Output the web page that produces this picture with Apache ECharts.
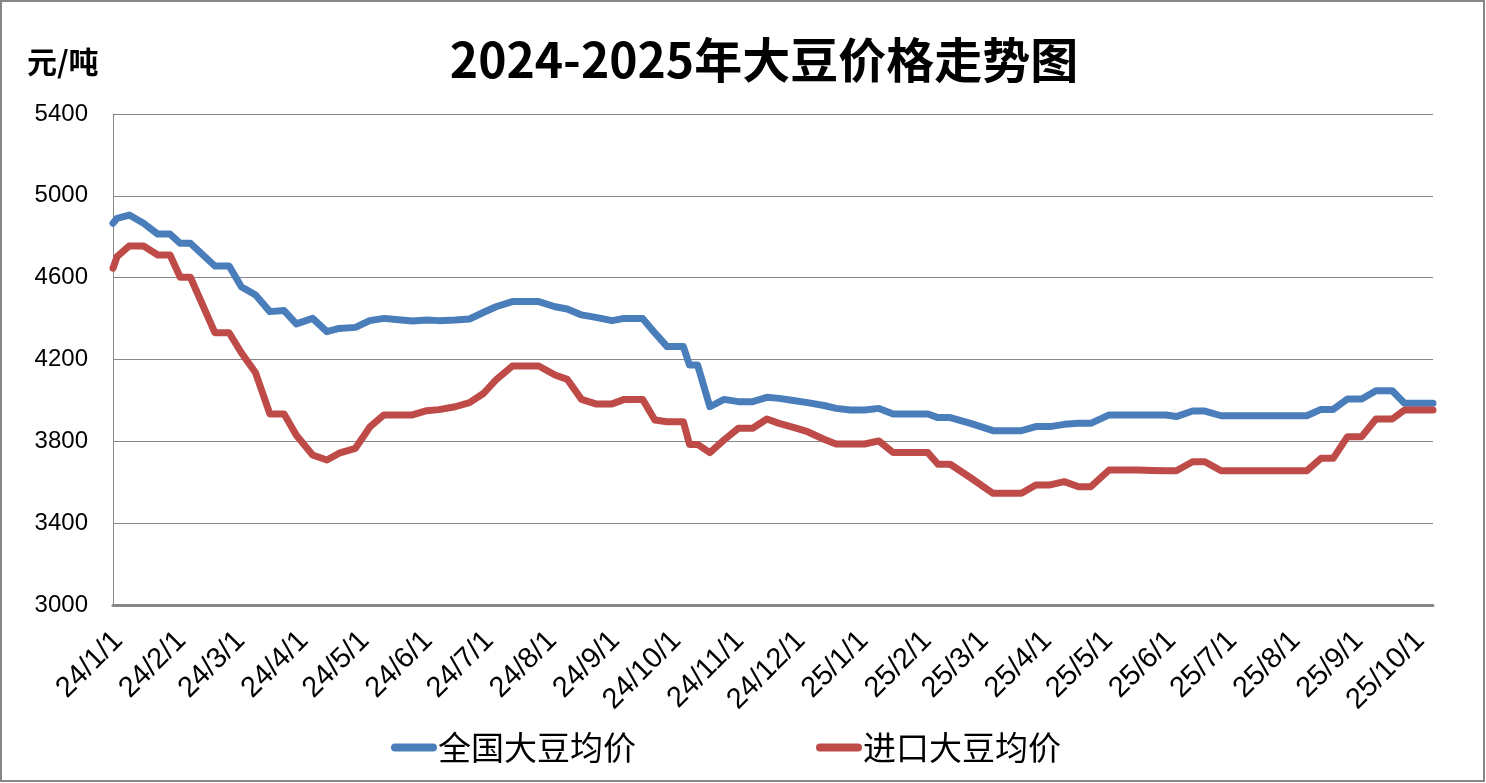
<!DOCTYPE html>
<html><head><meta charset="utf-8">
<script src="https://cdn.jsdelivr.net/npm/echarts@6/dist/echarts.min.js"></script>
<style>html,body{margin:0;padding:0;background:#fff}#c{width:1486px;height:783px}</style>
</head><body><div id="c"></div>
<script>
const titleText = '2024-2025年大豆价格走势图';
const unitText = '元/吨';
const seriesNames = ['全国大豆均价', '进口大豆均价'];
const axisStart = '2024-01-01';
const axisEnd = '2025-10-10';
const yMin = 3000, yMax = 5400, yStep = 400;

const dates = [
 '2024-01-01','2024-01-03','2024-01-09','2024-01-16','2024-01-23','2024-01-29','2024-02-03','2024-02-08',
 '2024-02-20','2024-02-27','2024-03-04','2024-03-11','2024-03-18','2024-03-25','2024-03-31','2024-04-08',
 '2024-04-15','2024-04-21','2024-04-29','2024-05-06','2024-05-13','2024-05-19','2024-05-27','2024-06-03',
 '2024-06-09','2024-06-17','2024-06-24','2024-07-01','2024-07-07','2024-07-15','2024-07-21','2024-07-28',
 '2024-08-05','2024-08-11','2024-08-18','2024-08-25','2024-09-02','2024-09-08','2024-09-17','2024-09-23',
 '2024-09-29','2024-10-07','2024-10-10','2024-10-14','2024-10-20','2024-10-27','2024-11-03','2024-11-10',
 '2024-11-17','2024-11-23','2024-11-30','2024-12-07','2024-12-15','2024-12-21','2024-12-28','2025-01-04',
 '2025-01-11','2025-01-18','2025-01-26','2025-02-04','2025-02-09','2025-02-15','2025-02-25','2025-03-08',
 '2025-03-15','2025-03-22','2025-03-29','2025-04-05','2025-04-12','2025-04-19','2025-04-25','2025-05-04',
 '2025-05-11','2025-05-18','2025-05-25','2025-06-01','2025-06-06','2025-06-14','2025-06-20','2025-06-28',
 '2025-07-05','2025-07-12','2025-07-19','2025-07-26','2025-08-02','2025-08-09','2025-08-16','2025-08-22',
 '2025-08-29','2025-09-05','2025-09-12','2025-09-20','2025-09-26','2025-10-03','2025-10-10'
];
const nationalAvg = [
 4866,4890,4906,4866,4813,4813,4768,4768,
 4657,4657,4556,4515,4434,4439,4374,4401,
 4336,4352,4357,4390,4401,4395,4388,4393,
 4390,4393,4398,4431,4458,4483,4483,4483,
 4458,4447,4418,4406,4390,4401,4401,4330,
 4263,4263,4173,4173,3969,4005,3994,3994,
 4015,4010,4000,3989,3975,3961,3953,3953,
 3961,3934,3934,3934,3916,3916,3888,3852,
 3852,3852,3872,3872,3883,3888,3888,3929,
 3929,3929,3929,3929,3921,3948,3948,3925,
 3925,3925,3925,3925,3925,3925,3956,3956,
 4007,4007,4047,4047,3986,3986,3986
];
const importAvg = [
 4646,4703,4755,4755,4711,4711,4602,4602,
 4331,4331,4233,4135,3934,3934,3830,3733,
 3709,3742,3766,3869,3929,3929,3929,3950,
 3955,3969,3989,4035,4100,4168,4168,4168,
 4124,4103,4005,3983,3983,4005,4005,3904,
 3896,3896,3785,3785,3745,3807,3864,3864,
 3909,3888,3868,3847,3810,3787,3787,3787,
 3802,3745,3745,3745,3688,3688,3622,3546,
 3546,3546,3587,3587,3603,3578,3578,3660,
 3660,3660,3658,3656,3656,3700,3700,3656,
 3656,3656,3656,3656,3656,3656,3717,3717,
 3823,3823,3909,3909,3953,3953,3953
];

// daily category axis
const cats = [];
for (let t = Date.parse(axisStart + 'T00:00:00Z'); t <= Date.parse(axisEnd + 'T00:00:00Z'); t += 86400000) {
  cats.push(new Date(t).toISOString().slice(0, 10));
}
function toSeries(vals) {
  const m = {};
  dates.forEach((d, i) => { m[d] = vals[i]; });
  return cats.map(c => (c in m ? m[c] : null));
}

const chart = echarts.init(document.getElementById('c'), null, {renderer: 'canvas'});
chart.setOption({
  animation: false,
  backgroundColor: '#fff',
  title: [
    {text: titleText, left: 759, textAlign: 'center', top: 31,
     textStyle: {fontFamily: 'Noto Sans CJK SC', fontWeight: 'bold', fontSize: 48, color: '#000'}},
    {text: unitText, left: 22, top: 42,
     textStyle: {fontFamily: 'Noto Sans CJK SC', fontWeight: 'bold', fontSize: 30, color: '#000'}}
  ],
  graphic: [{type: 'rect', shape: {x: 1, y: 1, width: 1483, height: 780},
    style: {fill: 'none', stroke: '#868686', lineWidth: 2}, silent: true}],
  legend: {
    data: seriesNames, left: 386, top: 726, itemGap: 180, itemWidth: 46, itemHeight: 8,
    icon: 'path://M4,0 L42,0 A4,4 0 0 1 42,8 L4,8 A4,4 0 0 1 4,0 Z',
    textStyle: {fontFamily: 'Noto Sans CJK SC', fontSize: 33, color: '#000', padding: [0, 0, 0, -4]}
  },
  grid: {left: 113, right: 53, top: 114, bottom: 178, containLabel: false},
  xAxis: {
    type: 'category', data: cats, boundaryGap: false,
    axisLine: {lineStyle: {color: '#868686', width: 3}},
    axisTick: {show: false},
    splitLine: {show: false},
    axisLabel: {
      interval: (i, v) => v.slice(8) === '01',
      rotate: 45, margin: 16, align: 'right', verticalAlign: 'top', padding: [0, 7, 0, 0],
      fontFamily: 'Liberation Sans', fontSize: 29, color: '#000',
      formatter: v => v.slice(2, 4) + '/' + (+v.slice(5, 7)) + '/' + (+v.slice(8, 10))
    }
  },
  yAxis: {
    type: 'value', min: yMin, max: yMax, interval: yStep,
    axisLine: {show: true, lineStyle: {color: '#868686', width: 1}},
    axisTick: {show: false},
    splitLine: {lineStyle: {color: '#868686', width: 1}},
    axisLabel: {margin: 25, fontFamily: 'Liberation Sans', fontSize: 24, color: '#000',
      formatter: v => String(v)}
  },
  series: [
    {name: seriesNames[0], type: 'line', data: toSeries(nationalAvg), connectNulls: true,
     showSymbol: false, color: '#4A7EBB', lineStyle: {width: 7, color: '#4A7EBB', join: 'round', cap: 'round'}},
    {name: seriesNames[1], type: 'line', data: toSeries(importAvg), connectNulls: true,
     showSymbol: false, color: '#BE4B48', lineStyle: {width: 7, color: '#BE4B48', join: 'round', cap: 'round'}}
  ]
});
</script></body></html>
